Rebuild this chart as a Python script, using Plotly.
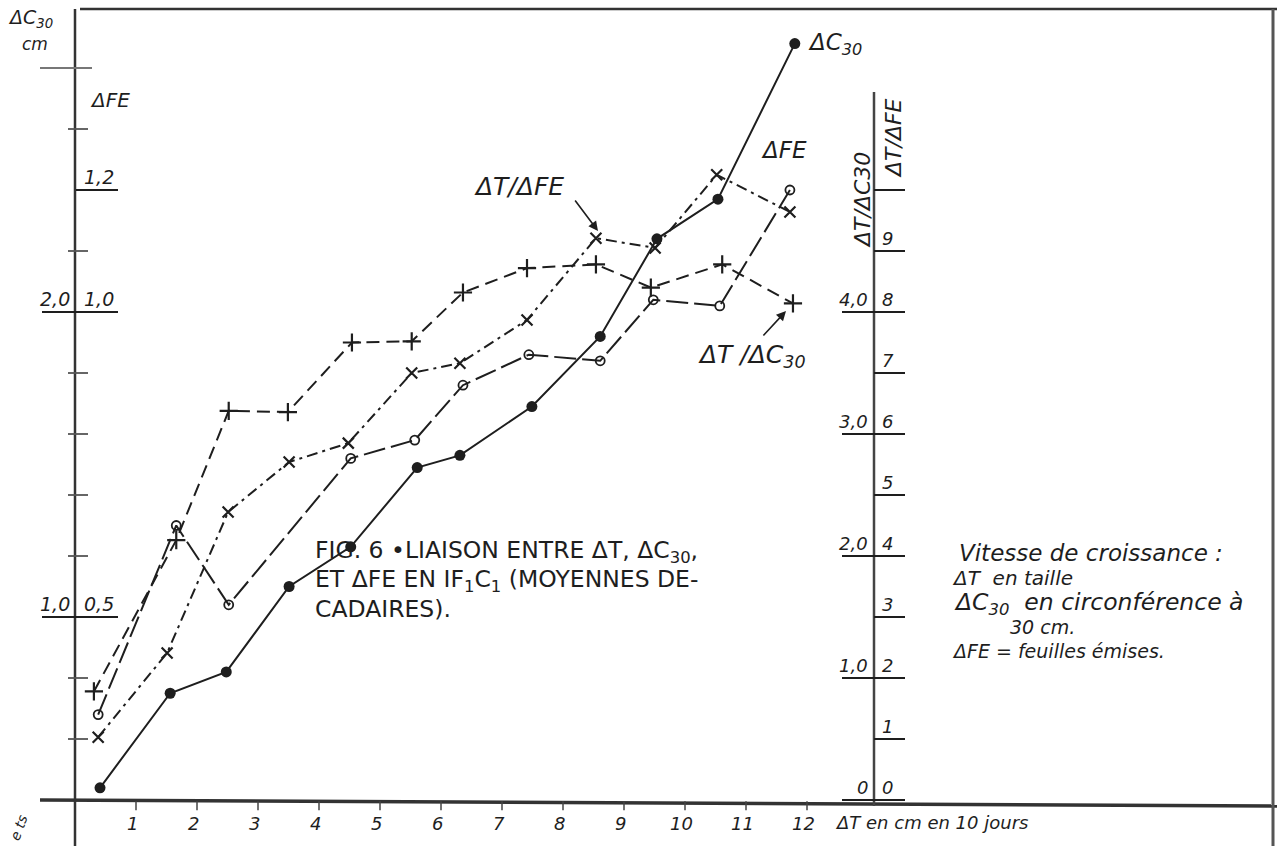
import plotly.graph_objects as go

W, H = 1277, 846
X0, Y0, S = 75, 800, 61  # pixel origin of the graph and pixels per grid unit

# ---------------- data ----------------
dT_c30 = [0.41, 1.56, 2.48, 3.51, 4.52, 5.61, 6.31, 7.49, 8.61, 9.54, 10.54, 11.80]
c30 = [0.44, 0.75, 0.82, 1.10, 1.23, 1.49, 1.53, 1.69, 1.92, 2.24, 2.37, 2.88]

dT_fe = [0.38, 1.66, 2.52, 4.52, 5.57, 6.36, 7.44, 8.61, 9.48, 10.57, 11.72]
fe = [0.34, 0.65, 0.52, 0.76, 0.79, 0.88, 0.93, 0.92, 1.02, 1.01, 1.20]

dT_rfe = [0.38, 1.51, 2.51, 3.51, 4.48, 5.52, 6.31, 7.41, 8.54, 9.51, 10.52, 11.72]
r_fe = [1.03, 2.41, 4.72, 5.54, 5.85, 7.00, 7.16, 7.87, 9.21, 9.05, 10.25, 9.64]

dT_rc30 = [0.31, 1.66, 2.52, 3.49, 4.54, 5.52, 6.36, 7.41, 8.54, 9.44, 10.61, 11.77]
r_c30 = [0.89, 2.13, 3.19, 3.18, 3.75, 3.76, 4.16, 4.36, 4.39, 4.20, 4.39, 4.07]

# tick values / labels
x_ticks = list(range(1, 13))
x_tick_labels = [str(v) for v in x_ticks]
fe_ticks = [0.5, 1.0, 1.2]
fe_tick_labels = ["0,5", "1,0", "1,2"]
c30_ticks = [1.0, 2.0]
c30_tick_labels = ["1,0", "2,0"]
c30_minor = [0.6, 0.8, 1.2, 1.4, 1.6, 1.8, 2.2, 2.6]
c30_top = 2.8
rfe_ticks = list(range(0, 11))
rfe_tick_labels = [str(v) for v in range(0, 10)] + [""]
rc30_ticks = [0.0, 1.0, 2.0, 3.0, 4.0]
rc30_tick_labels = ["0", "1,0", "2,0", "3,0", "4,0"]


# ---------------- helpers ----------------
def X(px):
    return (px - X0) / S


def U(py):
    return (Y0 - py) / S


u_lo, u_hi = U(H), U(0)
x_rng = [X(0), X(W)]
ranges = {
    "y": [u_lo, u_hi],                              # ΔT/ΔFE
    "y2": [u_lo / 2, u_hi / 2],                     # ΔT/ΔC30
    "y3": [0.2 + 0.1 * u_lo, 0.2 + 0.1 * u_hi],     # ΔFE
    "y4": [0.4 + 0.2 * u_lo, 0.4 + 0.2 * u_hi],     # ΔC30 (cm)
}

INK = "#1e1e1e"
HAND = "DejaVu Sans"
PRINT = "DejaVu Sans"

fig = go.Figure()

fig.add_trace(go.Scatter(
    x=dT_rc30, y=r_c30, yaxis="y2", mode="lines+markers", name="ΔT/ΔC30",
    line=dict(color=INK, width=2, dash="13px,7px"),
    marker=dict(symbol="cross-thin", size=13, line=dict(color=INK, width=2.2)),
    cliponaxis=False))
fig.add_trace(go.Scatter(
    x=dT_rfe, y=r_fe, yaxis="y", mode="lines+markers", name="ΔT/ΔFE",
    line=dict(color=INK, width=2, dash="11px,5px,3px,5px"),
    marker=dict(symbol="x-thin", size=11, line=dict(color=INK, width=2.2)),
    cliponaxis=False))
fig.add_trace(go.Scatter(
    x=dT_fe, y=fe, yaxis="y3", mode="lines+markers", name="ΔFE",
    line=dict(color=INK, width=2, dash="22px,6px"),
    marker=dict(symbol="circle-open", size=9, color=INK, line=dict(color=INK, width=1.8)),
    cliponaxis=False))
fig.add_trace(go.Scatter(
    x=dT_c30, y=c30, yaxis="y4", mode="lines+markers", name="ΔC30",
    line=dict(color=INK, width=2),
    marker=dict(symbol="circle", size=11, color=INK),
    cliponaxis=False))

shapes = []
ann = []


def line(x0, y0, x1, y1, yref="y", color=INK, width=2):
    shapes.append(dict(type="line", xref="x", yref=yref, x0=x0, y0=y0, x1=x1, y1=y1,
                       line=dict(color=color, width=width), layer="below"))


def label(x, y, text, yref="y", xanchor="left", yanchor="bottom", size=17, font=HAND,
          italic=True, xref="x", angle=0):
    t = f"<i>{text}</i>" if italic else text
    ann.append(dict(x=x, y=y, xref=xref, yref=yref, text=t, showarrow=False,
                    xanchor=xanchor, yanchor=yanchor, textangle=angle,
                    font=dict(family=font, size=size, color=INK)))


def plabel(px, py, text, **kw):
    kw.setdefault("yanchor", "middle")
    label(px / W, 1 - py / H, text, xref="paper", yref="paper", **kw)


# frame
shapes.append(dict(type="line", xref="paper", yref="paper", x0=80 / W, x1=1, y0=1 - 9 / H, y1=1 - 9 / H,
                   line=dict(color="#333", width=2.5)))
shapes.append(dict(type="line", xref="paper", yref="paper", x0=1273 / W, x1=1273 / W, y0=0, y1=1 - 9 / H,
                   line=dict(color="#555", width=3)))

# x axis
line(X(40), 0, X(W), -0.1, width=3.5, color="#333")
for v, t in zip(x_ticks, x_tick_labels):
    line(v, -0.02, v, -0.17, width=1.5, color="#444")
    label(v - 0.05, U(823), t, xanchor="center", yanchor="middle", size=18)
label(X(833), U(822), "ΔT en cm en 10 jours", xanchor="left", yanchor="middle", size=18)
plabel(4, 828, "e ts", size=14, angle=-70)

# left axis
line(0, U(H), 0, U(9), width=2.5, color="#333")
for v in c30_minor:
    shapes.append(dict(type="line", xref="x", yref="y4", x0=X(68), x1=X(88), y0=v, y1=v,
                       line=dict(color="#555", width=1.8)))
shapes.append(dict(type="line", xref="x", yref="y4", x0=X(40), x1=X(92), y0=c30_top, y1=c30_top,
                   line=dict(color="#777", width=2)))
for v, t in zip(c30_ticks, c30_tick_labels):
    shapes.append(dict(type="line", xref="x", yref="y4", x0=X(42), x1=X(78), y0=v, y1=v,
                       line=dict(color=INK, width=2)))
    label(X(72), v, t, yref="y4", xanchor="right", size=19)
for v, t in zip(fe_ticks, fe_tick_labels):
    shapes.append(dict(type="line", xref="x", yref="y3", x0=X(76), x1=X(118), y0=v, y1=v,
                       line=dict(color=INK, width=2)))
    label(X(82), v, t, yref="y3", xanchor="left", size=19)
plabel(6, 18, "ΔC<sub>30</sub>", size=19)
plabel(20, 44, "cm", size=17)
plabel(88, 100, "ΔFE", size=20)

# right axes
xr = X(874)
line(xr, U(806), xr, U(92), width=2.5, color="#444")
for v, t in zip(rfe_ticks, rfe_tick_labels):
    line(xr, v, X(905), v, width=2)
    if t:
        label(X(880), v, t, xanchor="left", size=18)
for v, t in zip(rc30_ticks, rc30_tick_labels):
    shapes.append(dict(type="line", xref="x", yref="y2", x0=X(842), x1=xr, y0=v, y1=v,
                       line=dict(color=INK, width=2)))
    label(X(870), v, t, yref="y2", xanchor="right", size=18)
plabel(862, 200, "ΔT/ΔC30", xanchor="center", size=22, angle=-90)
plabel(893, 138, "ΔT/ΔFE", xanchor="center", size=22, angle=-90)

# series labels and arrows
plabel(806, 44, "ΔC<sub>30</sub>", size=23)
plabel(519, 186, "ΔT/ΔFE", xanchor="center", size=25)
plabel(784, 150, "ΔFE", xanchor="center", size=23)
plabel(752, 356, "ΔT /ΔC<sub>30</sub>", xanchor="center", size=25)
ann.append(dict(x=598 / W, y=1 - 231 / H, xref="paper", yref="paper", ax=-24, ay=-32, text="",
                showarrow=True, arrowhead=2, arrowsize=1.2, arrowwidth=1.6, arrowcolor=INK))
ann.append(dict(x=786 / W, y=1 - 311 / H, xref="paper", yref="paper", ax=-24, ay=26, text="",
                showarrow=True, arrowhead=2, arrowsize=1.2, arrowwidth=1.6, arrowcolor=INK))

# caption
caption = ["FIG. 6 •LIAISON ENTRE ΔT, ΔC<sub>30</sub>,",
           "ET ΔFE EN IF<sub>1</sub>C<sub>1</sub> (MOYENNES DE-",
           "CADAIRES)."]
for i, t in enumerate(caption):
    plabel(313, 551 + 29 * i, t, size=23.5, font=PRINT, italic=False)

# explanation text
notes = [(957, 553, "Vitesse de croissance :", 23),
         (950, 578, "ΔT  en taille", 20),
         (952, 603, "ΔC<sub>30</sub>  en circonférence à", 23.5),
         (1008, 627, "30 cm.", 19),
         (950, 651, "ΔFE = feuilles émises.", 19)]
for px, py, t, sz in notes:
    plabel(px, py, t, size=sz)

hidden = dict(visible=False, fixedrange=True)
fig.update_layout(
    width=W, height=H, margin=dict(l=0, r=0, t=0, b=0),
    paper_bgcolor="white", plot_bgcolor="white", showlegend=False,
    xaxis=dict(range=x_rng, **hidden),
    yaxis=dict(range=ranges["y"], **hidden),
    yaxis2=dict(range=ranges["y2"], overlaying="y", **hidden),
    yaxis3=dict(range=ranges["y3"], overlaying="y", **hidden),
    yaxis4=dict(range=ranges["y4"], overlaying="y", **hidden),
    shapes=shapes, annotations=ann,
)

fig.write_html("out.html")
